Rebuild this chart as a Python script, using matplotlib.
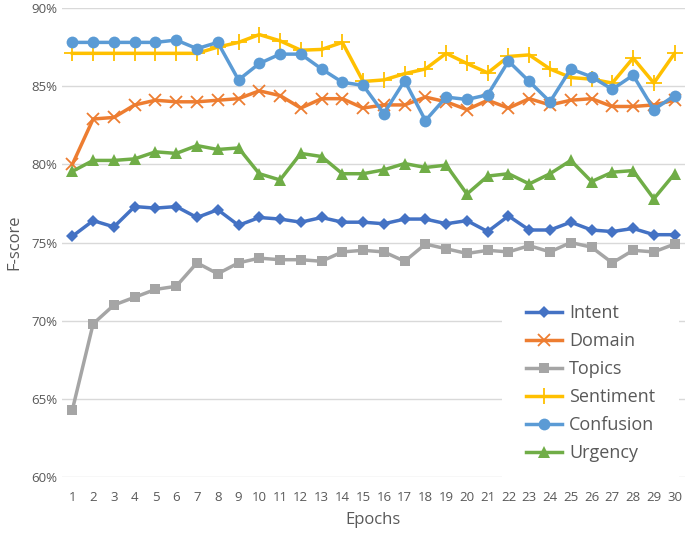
import numpy as np
import matplotlib.pyplot as plt
from matplotlib.ticker import FuncFormatter

epochs = list(range(1, 31))

intent = [75.4, 76.4, 76.0, 77.3, 77.2, 77.3, 76.6, 77.1, 76.1, 76.6,
          76.5, 76.3, 76.6, 76.3, 76.3, 76.2, 76.5, 76.5, 76.2, 76.4,
          75.7, 76.7, 75.8, 75.8, 76.3, 75.8, 75.7, 75.9, 75.5, 75.5]
domain = [80.0, 82.9, 83.0, 83.8, 84.1, 84.0, 84.0, 84.1, 84.2, 84.7,
          84.4, 83.6, 84.2, 84.2, 83.6, 83.8, 83.8, 84.3, 84.0, 83.5,
          84.1, 83.6, 84.2, 83.8, 84.1, 84.2, 83.7, 83.7, 83.8, 84.1]
topics = [64.3, 69.8, 71.0, 71.5, 72.0, 72.2, 73.7, 73.0, 73.7, 74.0,
          73.9, 73.9, 73.8, 74.4, 74.5, 74.4, 73.8, 74.9, 74.6, 74.3,
          74.5, 74.4, 74.8, 74.4, 75.0, 74.7, 73.7, 74.5, 74.4, 74.9]
sentiment = [87.1, 87.1, 87.1, 87.1, 87.1, 87.1, 87.1, 87.5, 87.8, 88.3,
             87.9, 87.3, 87.35, 87.8, 85.3, 85.4, 85.8, 86.1, 87.1, 86.45,
             85.85, 86.9, 87.0, 86.1, 85.55, 85.45, 85.2, 86.8, 85.2, 87.1]
confusion = [87.8, 87.8, 87.8, 87.8, 87.8, 87.95, 87.4, 87.8, 85.4, 86.45,
             87.05, 87.05, 86.1, 85.25, 85.05, 83.25, 85.35, 82.8, 84.3, 84.15,
             84.45, 86.6, 85.3, 84.0, 86.1, 85.6, 84.8, 85.7, 83.5, 84.4]
urgency = [79.55, 80.25, 80.25, 80.35, 80.8, 80.7, 81.2, 80.95, 81.05, 79.4,
           79.0, 80.7, 80.5, 79.4, 79.4, 79.65, 80.05, 79.8, 79.95, 78.1,
           79.25, 79.4, 78.75, 79.4, 80.25, 78.9, 79.5, 79.6, 77.8, 79.4]

series = [
    ("Intent", intent, "#4472C4", "D", 6.5, 0),
    ("Domain", domain, "#ED7D31", "x", 9, 1.3),
    ("Topics", topics, "#A5A5A5", "s", 6.5, 0),
    ("Sentiment", sentiment, "#FFC000", "+", 11, 1.3),
    ("Confusion", confusion, "#5B9BD5", "o", 8.5, 0),
    ("Urgency", urgency, "#70AD47", "^", 8.5, 0),
]

plt.rcParams['font.family'] = ['Open Sans', 'DejaVu Sans']

fig = plt.figure(figsize=(6.85, 5.33), dpi=100)
ax = fig.add_axes([0.0905, 0.105, 0.9095, 0.88])

for name, vals, col, mk, ms, mew in series:
    ax.plot(epochs, vals, color=col, marker=mk, markersize=ms,
            markeredgewidth=mew, markeredgecolor=col, linewidth=2.5,
            label=name, zorder=3)

ax.set_xlim(0.5, 30.5)
ax.set_ylim(60, 90)
ax.set_yticks(np.arange(60, 91, 5))
ax.yaxis.set_major_formatter(FuncFormatter(lambda v, p: f"{v:.0f}%"))
ax.set_xticks(epochs)
ax.grid(axis='y', color='#D9D9D9', linewidth=1)
ax.set_axisbelow(True)
for s in ax.spines.values():
    s.set_visible(False)
ax.tick_params(length=0, colors='#595959', labelsize=9.5)
ax.tick_params(axis='x', pad=10)
ax.set_xlabel("Epochs", fontsize=12, color='#595959', labelpad=6)
ax.set_ylabel("F-score", fontsize=12, color='#595959', labelpad=6)

leg = ax.legend(loc='center', bbox_to_anchor=(0.862, 0.281),
                bbox_transform=fig.transFigure, fontsize=13,
                frameon=True, facecolor='white', edgecolor='none',
                framealpha=1, handlelength=2.0, handletextpad=0.4,
                labelspacing=0.55, borderpad=1.3, borderaxespad=0)
for t in leg.get_texts():
    t.set_color('#595959')

fig.savefig("out.png", dpi=100)
